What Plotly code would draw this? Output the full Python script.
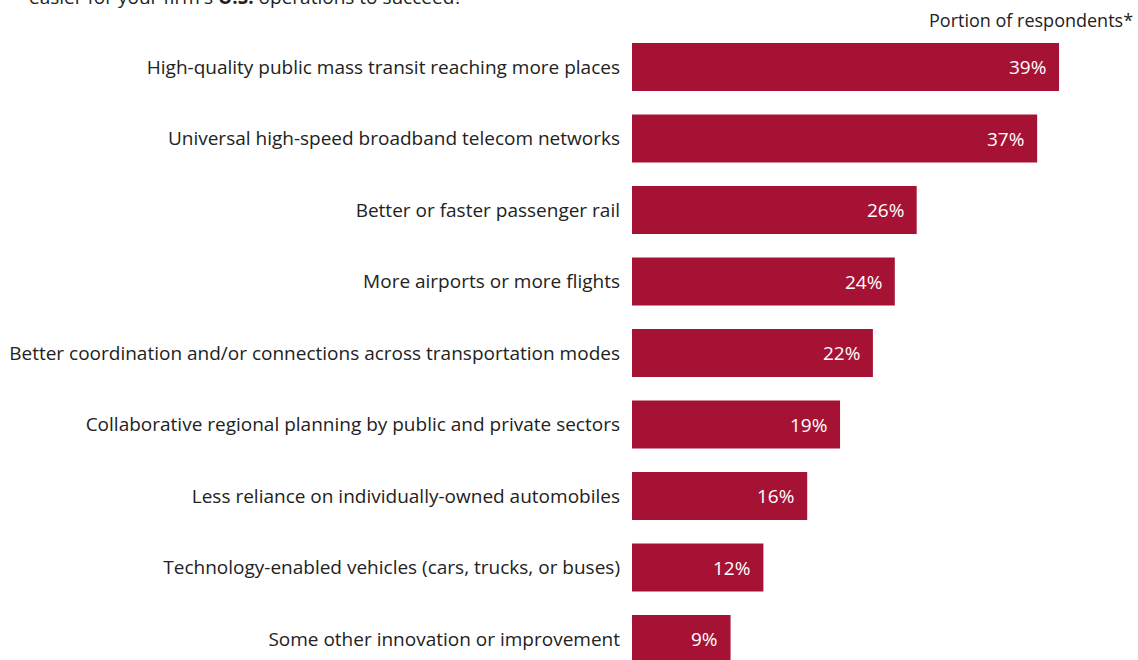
import plotly.graph_objects as go

categories = [
    "High-quality public mass transit reaching more places",
    "Universal high-speed broadband telecom networks",
    "Better or faster passenger rail",
    "More airports or more flights",
    "Better coordination and/or connections across transportation modes",
    "Collaborative regional planning by public and private sectors",
    "Less reliance on individually-owned automobiles",
    "Technology-enabled vehicles (cars, trucks, or buses)",
    "Some other innovation or improvement",
]
values = [39, 37, 26, 24, 22, 19, 16, 12, 9]
value_labels = [f"{v}%" for v in values]
title_line = "easier for your firm's <b>U.S.</b> operations to succeed?"
axis_note = "Portion of respondents*"

BAR = "#A51234"
FONT = "Open Sans, Liberation Sans, Arial, sans-serif"
W, H = 1138, 660
PLOT_LEFT = 632
PX_PER_UNIT = 10.95
ROW = 71.5
FIRST_CENTER = 67

fig = go.Figure(
    go.Bar(
        x=values,
        y=categories,
        orientation="h",
        marker=dict(color=BAR, line=dict(width=0)),
        width=0.67,
        hoverinfo="skip",
    )
)

for c, v, t in zip(categories, values, value_labels):
    fig.add_annotation(
        x=v, y=c, xref="x", yref="y", text=t, showarrow=False,
        xanchor="right", xshift=-11,
        font=dict(family=FONT, size=19, color="white"),
    )

fig.add_annotation(
    x=1, y=1 - 20 / H, xref="paper", yref="paper",
    text=axis_note, showarrow=False,
    xanchor="right", yanchor="middle", xshift=-3,
    font=dict(family=FONT, size=18, color="#222"),
)

fig.add_annotation(
    x=(27 - PLOT_LEFT) / (W - PLOT_LEFT), y=1 - 12 / H, xref="paper", yref="paper",
    text=title_line,
    showarrow=False, xanchor="left", yanchor="bottom",
    font=dict(family=FONT, size=19, color="#222"),
)

fig.update_layout(
    width=W, height=H,
    margin=dict(l=PLOT_LEFT, r=0, t=0, b=0),
    paper_bgcolor="white", plot_bgcolor="white",
    showlegend=False,
    xaxis=dict(range=[0, (W - PLOT_LEFT) / PX_PER_UNIT], visible=False, fixedrange=True),
    yaxis=dict(
        type="category", categoryorder="array", categoryarray=categories,
        range=[8 + (H - FIRST_CENTER - 8 * ROW) / ROW, -FIRST_CENTER / ROW],
        showgrid=False, zeroline=False, showline=False, ticks="",
        ticklabelstandoff=11, fixedrange=True,
        tickfont=dict(family=FONT, size=19, color="#222"),
    ),
)

fig.write_html(
    "out.html",
    config={"displayModeBar": False},
    post_script="document.body.style.margin='0';",
)
